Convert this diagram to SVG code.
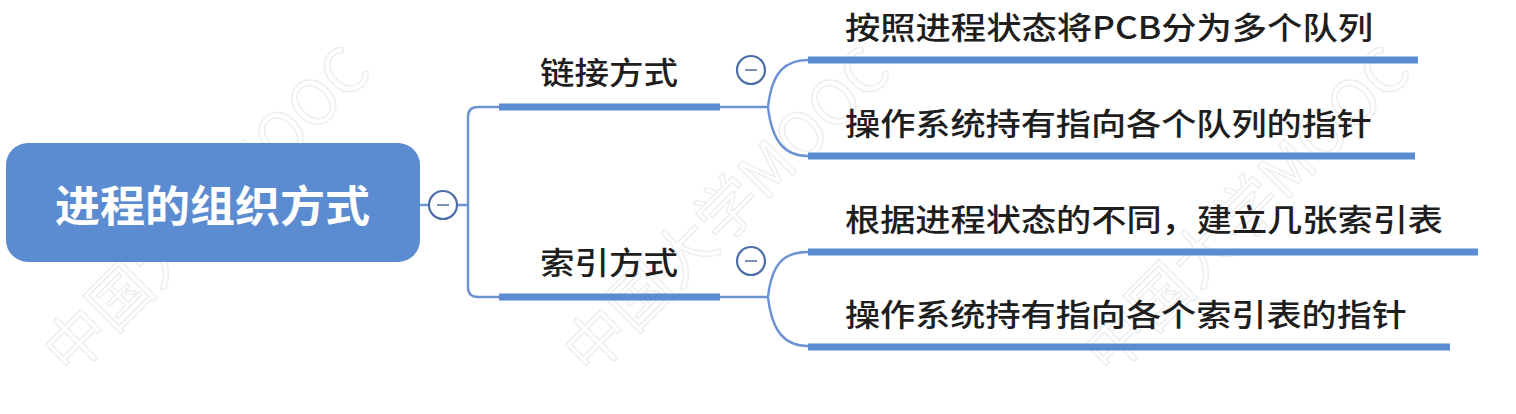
<svg xmlns="http://www.w3.org/2000/svg" width="1516" height="414" viewBox="0 0 1516 414">
<style>
.wm{font-family:"Noto Sans CJK SC","Liberation Sans",sans-serif;font-size:62px;fill:none;stroke:#eeeeee;stroke-width:1.5}
.lbl{font-family:"Noto Sans CJK SC","Noto Sans",sans-serif;font-size:31px;font-weight:500;fill:#1e1e1e}
.root{font-family:"Noto Sans CJK SC","Noto Sans",sans-serif;font-size:43px;font-weight:bold;fill:#ffffff}
.bar{stroke:#5b8bd0;stroke-width:7;fill:none}
.thin{stroke:#6b93d3;stroke-width:2.4;fill:none}
.tog{fill:#ffffff;stroke:#4d6ea8;stroke-width:2.2}
.minus{stroke:#7a90b8;stroke-width:2}
</style>
<rect width="1516" height="414" fill="#ffffff"/>
<g id="watermarks">
<text class="wm" x="70" y="378" transform="rotate(-45 70 378)">中国大学MOOC</text>
<text class="wm" x="590" y="378" transform="rotate(-45 590 378)">中国大学MOOC</text>
<text class="wm" x="1110" y="378" transform="rotate(-45 1110 378)">中国大学MOOC</text>
</g>
<g id="connectors">
<line class="thin" x1="420" y1="205" x2="430" y2="205"/>
<path class="thin" d="M457,205 H468 M499,107 H478 Q468,107 468,117 V287 Q468,297 478,297 H499"/>
<line class="thin" x1="720" y1="107" x2="768" y2="107"/>
<path class="thin" d="M768,107 C772,72 785,60 808,60 M768,107 C772,142 785,156 808,156"/>
<line class="thin" x1="720" y1="297" x2="768" y2="297"/>
<path class="thin" d="M768,297 C772,262 785,252 808,252 M768,297 C772,332 785,346 808,346"/>
</g>
<g id="root">
<rect x="6" y="143" width="414" height="119" rx="22" fill="#5b8bd0"/>
<text class="root" x="55" y="222" textLength="315" lengthAdjust="spacingAndGlyphs">进程的组织方式</text>
<circle class="tog" cx="443" cy="205" r="14"/>
<line class="minus" x1="437" y1="205" x2="449" y2="205"/>
</g>
<g id="n-link">
<line class="bar" x1="499" y1="107" x2="720" y2="107"/>
<text class="lbl" x="540" y="84" textLength="138" lengthAdjust="spacingAndGlyphs">链接方式</text>
<circle class="tog" cx="751" cy="70" r="14"/>
<line class="minus" x1="745" y1="70" x2="757" y2="70"/>
</g>
<g id="n-index">
<line class="bar" x1="499" y1="297" x2="720" y2="297"/>
<text class="lbl" x="540" y="274" textLength="138" lengthAdjust="spacingAndGlyphs">索引方式</text>
<circle class="tog" cx="751" cy="261" r="14"/>
<line class="minus" x1="745" y1="261" x2="757" y2="261"/>
</g>
<g id="n-link-1">
<line class="bar" x1="808" y1="60" x2="1418" y2="60"/>
<text class="lbl" x="845" y="39" textLength="528" lengthAdjust="spacingAndGlyphs">按照进程状态将PCB分为多个队列</text>
</g>
<g id="n-link-2">
<line class="bar" x1="808" y1="156" x2="1415" y2="156"/>
<text class="lbl" x="845" y="135" textLength="527" lengthAdjust="spacingAndGlyphs">操作系统持有指向各个队列的指针</text>
</g>
<g id="n-index-1">
<line class="bar" x1="808" y1="252" x2="1478" y2="252"/>
<text class="lbl" x="845" y="231" textLength="598" lengthAdjust="spacingAndGlyphs">根据进程状态的不同，建立几张索引表</text>
</g>
<g id="n-index-2">
<line class="bar" x1="808" y1="347" x2="1450" y2="347"/>
<text class="lbl" x="845" y="326" textLength="562" lengthAdjust="spacingAndGlyphs">操作系统持有指向各个索引表的指针</text>
</g>
</svg>
